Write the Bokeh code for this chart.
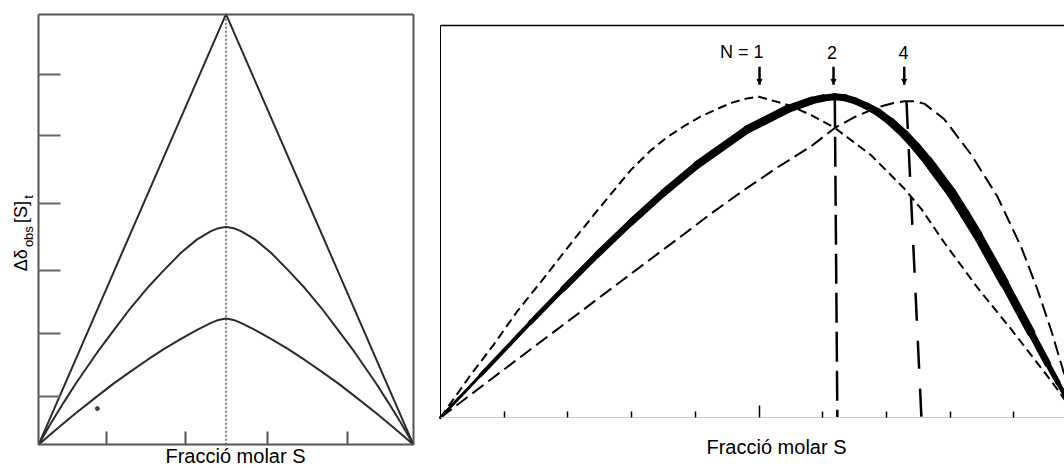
from math import pi
from bokeh.plotting import figure
from bokeh.layouts import row
from bokeh.models import FixedTicker, LinearAxis, Range1d
from bokeh.core.properties import value
from bokeh.embed import file_html
from bokeh.resources import INLINE

FONT = "Liberation Sans"

# ---------------- Left panel (1:1 complex, different K) ----------------
left_triangle_x = [0.0, 0.5, 1.0]
left_triangle_y = [0.0, 1.0, 0.0]
left_curve_x = [0.0, 0.033, 0.067, 0.1, 0.157, 0.2, 0.245, 0.29, 0.334, 0.38, 0.423, 0.46, 0.48, 0.5,
                0.52, 0.54, 0.577, 0.62, 0.666, 0.71, 0.755, 0.8, 0.843, 0.9, 0.933, 0.967, 1.0]
left_mid_y = [0.0, 0.050, 0.098, 0.143, 0.215, 0.265, 0.317, 0.364, 0.405, 0.446, 0.477, 0.496, 0.503, 0.506,
              0.503, 0.496, 0.477, 0.446, 0.405, 0.364, 0.317, 0.265, 0.215, 0.143, 0.098, 0.050, 0.0]
left_low_y = [0.0, 0.025, 0.050, 0.074, 0.113, 0.142, 0.170, 0.197, 0.222, 0.246, 0.267, 0.283, 0.290, 0.293,
              0.290, 0.283, 0.267, 0.246, 0.222, 0.197, 0.170, 0.142, 0.113, 0.074, 0.050, 0.025, 0.0]
left_xticks = [0.181, 0.392, 0.610, 0.823]
left_yticks = [0.112, 0.258, 0.404, 0.561, 0.717, 0.860]
left_center = 0.5
left_speck_x = [0.157]
left_speck_y = [0.084]

# ---------------- Right panel (N = 1, 2, 4) ----------------
n1_x = [0.0, 0.047, 0.083, 0.120, 0.162, 0.204, 0.246, 0.298, 0.330, 0.355, 0.381, 0.407, 0.434, 0.458,
        0.481, 0.500, 0.545, 0.582, 0.619, 0.676, 0.728, 0.755, 0.791, 0.843, 0.896, 0.937, 0.964, 1.0]
n1_y = [0.0, 0.132, 0.226, 0.330, 0.434, 0.541, 0.645, 0.770, 0.833, 0.873, 0.907, 0.937, 0.962, 0.982,
        0.995, 1.0, 0.975, 0.943, 0.903, 0.818, 0.714, 0.650, 0.545, 0.405, 0.275, 0.170, 0.100, 0.0]
n2_x = [0.0, 0.063, 0.141, 0.193, 0.246, 0.298, 0.351, 0.403, 0.482, 0.545, 0.582, 0.600, 0.619,
        0.635, 0.650, 0.668, 0.686, 0.707, 0.728, 0.746, 0.765, 0.802, 0.823, 0.843, 0.885, 0.927,
        0.953, 0.969, 1.0]
n2_y = [0.0, 0.132, 0.296, 0.402, 0.508, 0.607, 0.702, 0.788, 0.899, 0.962, 0.988, 0.996, 1.0,
        0.997, 0.988, 0.972, 0.953, 0.922, 0.884, 0.845, 0.800, 0.701, 0.635, 0.570, 0.420, 0.265,
        0.168, 0.110, 0.0]
n4_x = [0.0, 0.083, 0.141, 0.220, 0.272, 0.319, 0.381, 0.424, 0.477, 0.529, 0.582, 0.619, 0.650,
        0.686, 0.710, 0.728, 0.745, 0.760, 0.791, 0.833, 0.874, 0.912, 0.937, 0.959, 0.974, 1.0]
n4_y = [0.0, 0.125, 0.212, 0.330, 0.408, 0.478, 0.570, 0.635, 0.710, 0.780, 0.846, 0.903, 0.937,
        0.967, 0.980, 0.986, 0.986, 0.978, 0.930, 0.820, 0.690, 0.530, 0.400, 0.270, 0.170, 0.0]
n2_vline_x = [0.619, 0.623]
n2_vline_y = [0.997, 0.0]
n4_vline_x = [0.7315, 0.755]
n4_vline_y = [0.987, 0.0]
arrow_x = [0.5008, 0.617, 0.728]
arrow_top = 1.094
arrow_bottom = 1.038
n_labels = ["N = 1", "2", "4"]
n_label_x = [0.507, 0.6146, 0.727]
right_major_tick = [0.5]
right_minor_ticks = [0.1, 0.2, 0.3, 0.4, 0.6, 0.7, 0.8, 0.9]
right_top = 1.2233

# band thickness of the experimental (solid) curve, per segment (style)
n2_widths = [3, 4, 5, 6, 6.5, 7, 7.5, 8, 8.5, 8, 7.5, 7, 7, 7, 7, 7.5, 8, 8.5, 9, 9.5, 10, 10, 10,
             9.5, 8.5, 7, 5.5, 4.5]

# the frame spans roughly these canvas rows (side panels take ~1-2 px)
FRAME_TOP = 1.5
FRAME_BOT = 465.5


# pixel -> data helpers for text placement (layout only)
def l_x(px):
    return (px - 38) / 375.0


def l_y(py):
    return (442 - py) / 427.0


def r_x(px):
    return (px - 440) / 637.0


def r_y(py):
    return (415 - py) / 318.0


def base_off(fs):
    # rendered alphabetic baseline sits ~0.4 em lower than requested
    return 0.4 * fs


def plain_axis(ax, color, width, bounds, loc):
    ax.fixed_location = loc
    ax.bounds = bounds
    ax.axis_line_color = color
    ax.axis_line_width = width
    ax.major_label_text_font_size = "0px"
    ax.major_label_text_color = None
    ax.major_label_standoff = 0


# ================= LEFT FIGURE =================
p1 = figure(width=420, height=468,
            x_range=Range1d(l_x(0), l_x(420)), y_range=Range1d(l_y(FRAME_BOT), l_y(FRAME_TOP)),
            output_backend="svg", toolbar_location=None,
            min_border_left=0, min_border_right=0, min_border_top=0, min_border_bottom=0)
p1.grid.visible = False
p1.outline_line_color = None
p1.background_fill_color = "white"
p1.border_fill_color = "white"

xa = p1.xaxis[0]
plain_axis(xa, "#555555", 2, (0, 1), 0)
xa.ticker = FixedTicker(ticks=left_xticks, minor_ticks=[])
xa.major_tick_in = 13
xa.major_tick_out = 0
xa.major_tick_line_width = 2
xa.major_tick_line_color = "#555555"

ya = p1.yaxis[0]
plain_axis(ya, "#555555", 2, (0, 1), 0)
ya.ticker = FixedTicker(ticks=left_yticks, minor_ticks=[])
ya.major_tick_in = 22
ya.major_tick_out = 0
ya.major_tick_line_width = 2
ya.major_tick_line_color = "#666666"

for side in ("above", "right"):
    ax = LinearAxis(ticker=FixedTicker(ticks=[], minor_ticks=[]),
                    major_tick_line_color=None, minor_tick_line_color=None)
    plain_axis(ax, "#555555", 2, (0, 1), 1)
    p1.add_layout(ax, side)

p1.line([left_center, left_center], [0, 1], line_color="#555555", line_width=1.5, line_dash="2 2")
p1.line(left_triangle_x, left_triangle_y, line_color="#2b2b2b", line_width=2)
p1.line(left_curve_x, left_mid_y, line_color="#2b2b2b", line_width=2)
p1.line(left_curve_x, left_low_y, line_color="#2b2b2b", line_width=2)
p1.scatter(left_speck_x, left_speck_y, size=4, color="#444444")

p1.text(x=[l_x(235)], y=[l_y(461 - base_off(20))], text=["Fracció molar S"], text_font=value(FONT),
        text_font_size="20px", text_align="center", text_baseline="alphabetic", text_color="black")
# rotated y title with subscripts (baseline offset acts along x when rotated)
p1.text(x=[l_x(28 - base_off(18))] * 2, y=[l_y(270), l_y(222)], text=["Δδ", "[S]"], angle=pi / 2,
        text_font=value(FONT), text_font_size="18px", text_align="left",
        text_baseline="alphabetic", text_color="black")
p1.text(x=[l_x(33 - base_off(13))] * 2, y=[l_y(246), l_y(198)], text=["obs", "t"], angle=pi / 2,
        text_font=value(FONT), text_font_size="13px", text_align="left",
        text_baseline="alphabetic", text_color="black")

# ================= RIGHT FIGURE =================
p2 = figure(width=644, height=468,
            x_range=Range1d(r_x(420), r_x(1064)), y_range=Range1d(r_y(FRAME_BOT), r_y(FRAME_TOP)),
            output_backend="svg", toolbar_location=None,
            min_border_left=0, min_border_right=0, min_border_top=0, min_border_bottom=0)
p2.grid.visible = False
p2.outline_line_color = None
p2.background_fill_color = "white"
p2.border_fill_color = "white"

xb = p2.xaxis[0]
plain_axis(xb, "#cfcfcf", 1, (0, 1), 0)
xb.ticker = FixedTicker(ticks=right_major_tick, minor_ticks=right_minor_ticks)
xb.major_tick_in = 12
xb.major_tick_out = 0
xb.minor_tick_in = 6
xb.minor_tick_out = 0
xb.major_tick_line_color = "black"
xb.minor_tick_line_color = "black"
xb.major_tick_line_width = 1.5
xb.minor_tick_line_width = 1.5

yb = p2.yaxis[0]
plain_axis(yb, "black", 1, (0, right_top), 0)
yb.ticker = FixedTicker(ticks=[], minor_ticks=[])
yb.major_tick_line_color = None
yb.minor_tick_line_color = None

top_axis = LinearAxis(ticker=FixedTicker(ticks=[], minor_ticks=[]),
                      major_tick_line_color=None, minor_tick_line_color=None)
plain_axis(top_axis, "black", 1.5, (0, 1), right_top)
p2.add_layout(top_axis, "above")

# theoretical curves (dashed)
p2.line(n1_x, n1_y, line_color="black", line_width=2, line_dash="9 5")
p2.line(n4_x, n4_y, line_color="black", line_width=2, line_dash="14 6")

# experimental curve as a thick band
seg_xs = [[n2_x[i], n2_x[i + 1]] for i in range(len(n2_x) - 1)]
seg_ys = [[n2_y[i], n2_y[i + 1]] for i in range(len(n2_y) - 1)]
p2.multi_line(xs=seg_xs, ys=seg_ys, line_width=n2_widths, line_color="black",
              line_cap="round", line_join="round")

# maxima markers
p2.line(n2_vline_x, n2_vline_y, line_color="black", line_width=2.5, line_dash="30 9")
p2.line(n4_vline_x, n4_vline_y, line_color="black", line_width=2.5, line_dash="28 20")

p2.segment(x0=arrow_x, y0=[arrow_top] * 3, x1=arrow_x, y1=[arrow_bottom] * 3,
           line_color="black", line_width=2.5)
p2.scatter(arrow_x, [arrow_bottom + 0.012] * 3, marker="inverted_triangle", size=5, color="black")

lab_y = r_y(60 - base_off(18))
p2.text(x=[n_label_x[0]], y=[lab_y], text=[n_labels[0]], text_font=value(FONT),
        text_font_size="18px", text_align="right", text_baseline="alphabetic", text_color="black")
p2.text(x=n_label_x[1:], y=[lab_y] * 2, text=n_labels[1:], text_font=value(FONT),
        text_font_size="18px", text_align="center", text_baseline="alphabetic", text_color="black")

p2.text(x=[r_x(776)], y=[r_y(452 - base_off(20))], text=["Fracció molar S"], text_font=value(FONT),
        text_font_size="20px", text_align="center", text_baseline="alphabetic", text_color="black")

layout = row(p1, p2)
open("out.html", "w").write(file_html(layout, INLINE))
